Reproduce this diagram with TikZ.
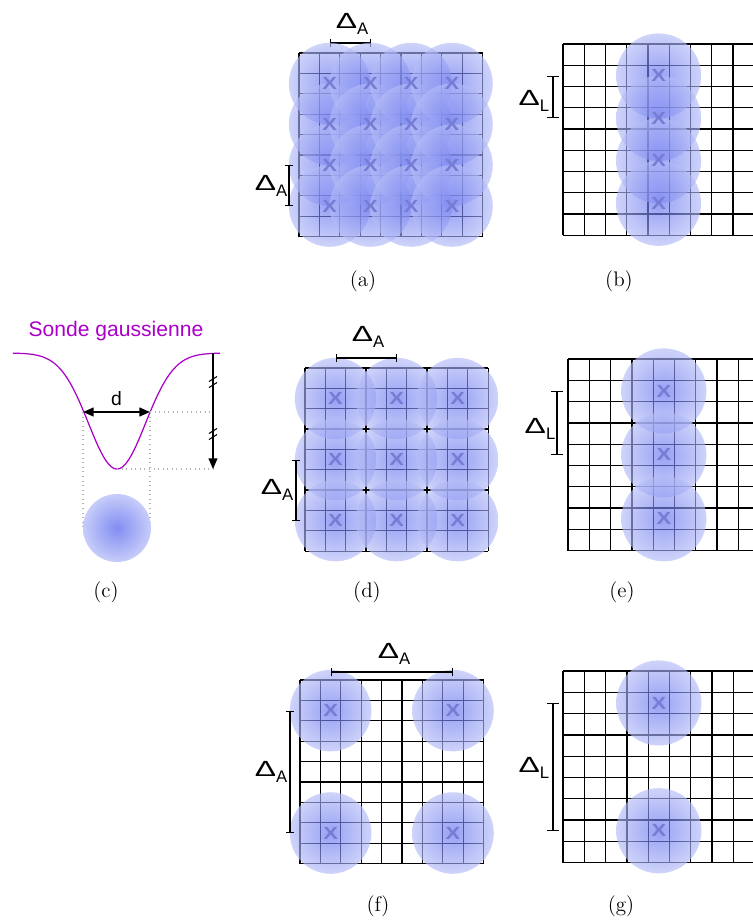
\documentclass[tikz,border=0pt]{standalone}
\usepackage{fontspec}
\usepackage{graphicx}
\newfontfamily\sansfont{Liberation Sans}
\usetikzlibrary{arrows.meta,positioning,calc}

\definecolor{probeblue}{RGB}{96,110,238}
\definecolor{probeedge}{RGB}{180,188,247}
\definecolor{probeviolet}{RGB}{170,0,200}
\definecolor{xblue}{RGB}{118,124,212}

% Delta label with a sans subscript
\newcommand{\dlab}[1]{{\sansfont\fontsize{12.5}{12.5}\selectfont\scalebox{1.45}[1]{Δ}\raisebox{-3pt}{\fontsize{9.5}{9.5}\selectfont #1}}}
% 9x9 grid: x0, y0, cell
\newcommand{\probegrid}[3]{%
  \foreach \k in {0,...,9} {
    \draw[gridline] ({#1+\k*#3},#2) -- ({#1+\k*#3},{#2+9*#3});
    \draw[gridline] (#1,{#2+\k*#3}) -- ({#1+9*#3},{#2+\k*#3});
  }}
% one probe spot: name, x, y, cell
\newcommand{\probe}[4]{%
  \coordinate (#1) at ({#2},{#3});
  \shade[probe] (#1) circle[radius={0.04cm*#4}];}

\begin{document}
\begin{tikzpicture}[x=0.02cm, y=-0.02cm,
    gridline/.style={line width=0.7pt},
    probe/.style={inner color=probeblue, outer color=probeedge, fill opacity=0.65},
    xmark/.style={font=\sansfont\bfseries\fontsize{10}{10}\selectfont, text=xblue, inner sep=0pt},
    dimshort/.style={line width=0.6pt, {Bar[width=5pt]}-{Bar[width=5pt]}},
    dimlong/.style={line width=0.7pt, {Bar[width=7pt]}-{Bar[width=7pt]}},
    deltalab/.style={inner sep=0pt},
    caption/.style={font=\fontsize{12}{14}\selectfont, inner sep=0pt},
    guide/.style={gray!60, dotted, line width=0.6pt}
  ]
  \useasboundingbox (0,0) rectangle (752,920);

  % (a) area probes, step 2 cells
  \probegrid{299}{53}{20.4}
  \draw[dimshort] (330,43) coordinate (aT1) -- (371,43) coordinate (aT2);
  \foreach \i in {1,3,5,7}
    \foreach \j in {1,3,5,7}
      {\probe{a\i\j}{299+(\i+0.5)*20.4}{53+(\j+0.5)*20.4}{20.4}}
  \foreach \i in {1,3,5,7}
    \foreach \j in {1,3,5,7}
      \node[xmark] (a\i\j x) at (a\i\j) {\scalebox{1.25}[1]{X}};
  \draw[dimshort] (a15 -| 289,0) -- (a17 -| 289,0);
  \node[deltalab] (aTop) at (352,24) {\dlab{A}};
  \node[deltalab] (aLeft) at (271,186) {\dlab{A}};
  \node[caption] (capA) at (363,281) {(a)};

  % (b) line probes, step 2 cells
  \probegrid{563}{44}{21.25}
  \foreach \j in {1,3,5,7}
    {\probe{b4\j}{563+4.5*21.25}{44+(\j+0.5)*21.25}{21.25}}
  \foreach \j in {1,3,5,7}
    \node[xmark] (b4\j x) at (b4\j) {\scalebox{1.25}[1]{X}};
  \draw[dimlong] (b41 -| 553,0) -- (b43 -| 553,0);
  \node[deltalab] (bLeft) at (534,101) {\dlab{L}};
  \node[caption] (capB) at (619,281) {(b)};

  % (c) gaussian probe
  \node[font=\sansfont\fontsize{12}{14}\selectfont, text=probeviolet] (title) at (116,331) {Sonde gaussienne};
  \draw[probeviolet, line width=0.7pt] plot[domain=13:220, samples=150]
    (\x, {353+116*exp(-((\x-117)/28.5)*((\x-117)/28.5)/2)});
  \coordinate (dL) at (83,412);
  \coordinate (dR) at (150,412);
  \coordinate (dip) at (117,469);
  \coordinate (topR) at (213,353);
  \coordinate (botR) at (213,469);
  \coordinate (disc) at (117,528);
  \draw[guide] (dR) -- (dR -| topR);
  \draw[guide] (dip) -- (botR);
  \draw[guide] (dL) -- (dL |- disc);
  \draw[guide] (dR) -- (dR |- disc);
  \shade[probe, fill opacity=1, inner color=probeblue!60!probeedge, outer color=probeedge!75!white] (disc) circle[radius=0.68cm];
  \draw[{Triangle[length=6pt,width=5pt]}-{Triangle[length=6pt,width=5pt]}, line width=0.9pt]
    (dL) -- node[above, font=\sansfont\fontsize{11}{11}\selectfont, inner sep=3pt] (dlab) {d} (dR);
  \draw[-{Triangle[length=6pt,width=5pt]}, line width=0.7pt] (topR) -- (botR);
  \foreach \y in {379,385,431,437}
    \draw[line width=0.6pt] (209,\y+2.5) -- (217,\y-2.5);
  \node[caption] (capC) at (106,592) {(c)};

  % (d) area probes, step 3 cells
  \probegrid{305}{368}{20.35}
  \foreach \i in {1,4,7}
    \foreach \j in {1,4,7}
      {\probe{d\i\j}{305+(\i+0.5)*20.35}{368+(\j+0.5)*20.35}{20.35}}
  \foreach \i in {1,4,7}
    \foreach \j in {1,4,7}
      \node[xmark] (d\i\j x) at (d\i\j) {\scalebox{1.25}[1]{X}};
  \draw[dimshort] (d11 |- 0,358) -- (d41 |- 0,358);
  \draw[dimshort] (d14 -| 296,0) -- (d17 -| 296,0);
  \node[deltalab] (dTop) at (368,337) {\dlab{A}};
  \node[deltalab] (dLeft) at (277,490) {\dlab{A}};
  \node[caption] (capD) at (367,592) {(d)};

  % (e) line probes, step 3 cells
  \probegrid{568}{359}{21.3}
  \foreach \j in {1,4,7}
    {\probe{e4\j}{568+4.5*21.3}{359+(\j+0.5)*21.3}{21.3}}
  \foreach \j in {1,4,7}
    \node[xmark] (e4\j x) at (e4\j) {\scalebox{1.25}[1]{X}};
  \draw[dimlong] (e41 -| 557,0) -- (e44 -| 557,0);
  \node[deltalab] (eLeft) at (540,429) {\dlab{L}};
  \node[caption] (capE) at (622,592) {(e)};

  % (f) area probes, step 6 cells
  \probegrid{300}{680}{20.4}
  \foreach \i in {1,7}
    \foreach \j in {1,7}
      {\probe{f\i\j}{300+(\i+0.5)*20.4}{680+(\j+0.5)*20.4}{20.4}}
  \foreach \i in {1,7}
    \foreach \j in {1,7}
      \node[xmark] (f\i\j x) at (f\i\j) {\scalebox{1.25}[1]{X}};
  \draw[dimshort] (f11 |- 0,672) -- (f71 |- 0,672);
  \draw[dimshort] (f11 -| 290,0) -- (f17 -| 290,0);
  \node[deltalab] (fTop) at (394,654) {\dlab{A}};
  \node[deltalab] (fLeft) at (271,772) {\dlab{A}};
  \node[caption] (capF) at (378,906) {(f)};

  % (g) line probes, step 6 cells
  \probegrid{563}{671}{21.3}
  \foreach \j in {1,7}
    {\probe{g4\j}{563+4.5*21.3}{671+(\j+0.5)*21.3}{21.3}}
  \foreach \j in {1,7}
    \node[xmark] (g4\j x) at (g4\j) {\scalebox{1.25}[1]{X}};
  \draw[dimlong] (g41 -| 553,0) -- (g47 -| 553,0);
  \node[deltalab] (gLeft) at (534,768) {\dlab{L}};
  \node[caption] (capG) at (621,906) {(g)};
\end{tikzpicture}
\end{document}
